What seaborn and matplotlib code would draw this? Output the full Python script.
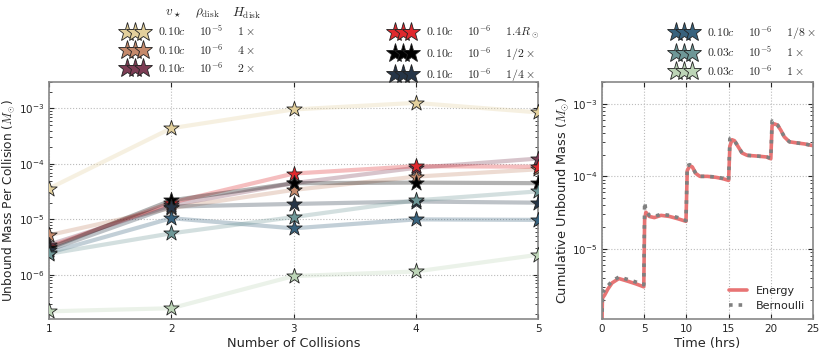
import numpy as np
import pandas as pd
import seaborn as sns
import matplotlib
matplotlib.use("Agg")
import matplotlib.pyplot as plt
from matplotlib.lines import Line2D
from matplotlib.ticker import LogLocator

# ---------------- data ----------------
collisions = [1, 2, 3, 4, 5]

v_star = ["0.10c", "0.10c", "0.10c", "0.10c", "0.10c", "0.10c", "0.10c", "0.03c", "0.03c"]
rho_disk = ["10^{-5}", "10^{-6}", "10^{-6}", "10^{-6}", "10^{-6}", "10^{-6}", "10^{-6}", "10^{-5}", "10^{-6}"]
h_disk = [r"1\times", r"4\times", r"2\times", r"1.4R_\odot", r"1/2\times",
          r"1/4\times", r"1/8\times", r"1\times", r"1\times"]

run_tan = [3.6e-5, 4.4e-4, 9.6e-4, 1.26e-3, 8.5e-4]
run_brown = [5.2e-6, 1.6e-5, 3.4e-5, 5.9e-5, 8.0e-5]
run_maroon = [3.5e-6, 1.8e-5, 4.5e-5, 8.5e-5, 1.25e-4]
run_red = [3.2e-6, 2.0e-5, 6.7e-5, 9.1e-5, 8.9e-5]
run_black = [3.0e-6, 2.2e-5, 4.5e-5, 4.6e-5, 4.5e-5]
run_navy = [2.8e-6, 1.7e-5, 1.9e-5, 2.1e-5, 2.0e-5]
run_blue = [2.5e-6, 1.05e-5, 6.9e-6, 1.0e-5, 9.8e-6]
run_teal = [2.4e-6, 5.6e-6, 1.1e-5, 2.2e-5, 3.2e-5]
run_sage = [2.2e-7, 2.5e-7, 9.5e-7, 1.15e-6, 2.3e-6]

runs = [run_tan, run_brown, run_maroon, run_red, run_black,
        run_navy, run_blue, run_teal, run_sage]
run_colors = ["#e3d09c", "#c58a6c", "#7d3d55", "#e0282d", "#000000",
              "#263547", "#38627d", "#6e9797", "#bdd5b7"]

time_hrs = [0.0, 0.05, 0.3, 0.7, 1.2, 2.0, 3.0, 4.0, 4.95, 5.05, 5.2, 5.6, 6.2, 7.0,
            8.0, 9.0, 9.95, 10.1, 10.4, 10.7, 11.1, 11.6, 12.5, 13.5, 14.3, 15.0,
            15.15, 15.4, 15.7, 16.1, 16.6, 17.2, 18.5, 19.5, 20.0, 20.15, 20.4,
            20.8, 21.2, 21.6, 22.2, 23.0, 24.0, 25.0]
energy = [1.0e-6, 2.1e-6, 2.3e-6, 2.8e-6, 3.4e-6, 3.9e-6, 3.6e-6, 3.3e-6, 3.0e-6,
          2.5e-5, 3.2e-5, 2.8e-5, 2.7e-5, 2.9e-5, 2.8e-5, 2.6e-5, 2.4e-5, 1.2e-4,
          1.4e-4, 1.35e-4, 1.1e-4, 1.0e-4, 1.0e-4, 9.7e-5, 9.3e-5, 8.8e-5, 2.6e-4,
          3.2e-4, 3.1e-4, 2.6e-4, 2.1e-4, 1.95e-4, 1.9e-4, 1.85e-4, 1.75e-4, 5.0e-4,
          5.3e-4, 5.1e-4, 4.3e-4, 3.5e-4, 3.0e-4, 2.9e-4, 2.8e-4, 2.65e-4]
bernoulli = [1.0e-6, 2.5e-6, 2.7e-6, 3.1e-6, 3.6e-6, 4.1e-6, 3.8e-6, 3.5e-6, 3.2e-6,
             4.4e-5, 3.4e-5, 2.9e-5, 2.8e-5, 3.0e-5, 2.9e-5, 2.7e-5, 2.45e-5, 1.4e-4,
             1.45e-4, 1.35e-4, 1.1e-4, 1.0e-4, 1.0e-4, 9.8e-5, 9.4e-5, 8.9e-5, 3.3e-4,
             3.35e-4, 3.1e-4, 2.6e-4, 2.1e-4, 1.95e-4, 1.9e-4, 1.85e-4, 1.78e-4, 5.8e-4,
             5.4e-4, 5.1e-4, 4.3e-4, 3.5e-4, 3.0e-4, 2.9e-4, 2.8e-4, 2.65e-4]

# ---------------- style ----------------
sns.set_style("ticks")
plt.rcParams.update({
    "font.family": ["DejaVu Sans"],
    "mathtext.fontset": "cm",
    "font.size": 9,
    "axes.labelsize": 9.3,
    "xtick.labelsize": 7.5,
    "ytick.labelsize": 7.5,
    "xtick.direction": "in",
    "ytick.direction": "in",
    "xtick.top": True,
    "ytick.right": True,
    "axes.edgecolor": "#888888",
    "axes.linewidth": 1.2,
})

W, H = 830, 356
fig = plt.figure(figsize=(W / 100, H / 100), dpi=100)
ax1 = fig.add_axes([49 / W, 1 - 319 / H, (538 - 49) / W, (319 - 82) / H])
ax2 = fig.add_axes([602 / W, 1 - 319 / H, (813 - 602) / W, (319 - 82) / H])

# ---------------- left panel ----------------
sp = "    "
labels = []
for i in range(len(runs)):
    labels.append(f"${v_star[i]}${sp}${rho_disk[i]}${sp}${h_disk[i]}$")

rows = []
for i, r in enumerate(runs):
    for x, y in zip(collisions, r):
        rows.append({"collision": x, "mass": y, "run": labels[i]})
df = pd.DataFrame(rows)
pal = dict(zip(labels, run_colors))

sns.lineplot(data=df, x="collision", y="mass", hue="run", palette=pal,
             linewidth=3, alpha=0.3, legend=False, ax=ax1, zorder=2)
for i, r in enumerate(runs):
    sub = df[df["run"] == labels[i]]
    sns.scatterplot(data=sub, x="collision", y="mass", color=run_colors[i],
                    marker="*", s=135, edgecolor="#222222", linewidth=0.6,
                    legend=False, ax=ax1, zorder=3 + i)

ax1.set_yscale("log")
ax1.set_xlim(1, 5)
ax1.set_ylim(1.6e-7, 3e-3)
ax1.set_xticks(collisions)
ax1.set_yticks([1e-6, 1e-5, 1e-4, 1e-3])
ax1.yaxis.set_minor_locator(LogLocator(base=10, subs=np.arange(2, 10)))
ax1.grid(True, which="major", linestyle=":", color="#bbbbbb", linewidth=0.8)
ax1.set_xlabel("Number of Collisions", labelpad=2)
ax1.set_ylabel(r"Unbound Mass Per Collision ($M_{\odot}$)", fontsize=8.8)
ax1.yaxis.set_label_coords((17 - 49) / (538 - 49), 0.5)

def handles_for(idx):
    return [Line2D([], [], linestyle="none", marker="*", markersize=14,
                   markerfacecolor=run_colors[i], markeredgecolor="#222222",
                   markeredgewidth=0.6) for i in idx]

leg_kw = dict(frameon=False, numpoints=3, handlelength=2.03, handletextpad=0.93,
              labelspacing=0.27, borderpad=0, borderaxespad=0, fontsize=8.5,
              loc="upper left")
for idx, x0 in [([0, 1, 2], 123), ([3, 4, 5], 391), ([6, 7, 8], 672)]:
    fig.legend(handles_for(idx), [labels[i] for i in idx],
               bbox_to_anchor=(x0 / W, 1 - 24 / H), **leg_kw)

fig.text(165 / W, 1 - 13 / H, r"$v_\star$", fontsize=9.5, va="center")
fig.text(195 / W, 1 - 13 / H, r"$\rho_{\rm disk}$", fontsize=9.5, va="center")
fig.text(232 / W, 1 - 13 / H, r"$H_{\rm disk}$", fontsize=9.5, va="center")

# ---------------- right panel ----------------
dft = pd.DataFrame({"time": time_hrs, "Energy": energy, "Bernoulli": bernoulli})
sns.lineplot(data=dft, x="time", y="Energy", color="#e87474", linewidth=2.6,
             label="Energy", ax=ax2)
sns.lineplot(data=dft, x="time", y="Bernoulli", color="#808080", linewidth=2.6,
             linestyle=":", label="Bernoulli", ax=ax2)
ax2.set_yscale("log")
ax2.set_xlim(0, 25)
ax2.set_ylim(1.08e-6, 2e-3)
ax2.set_xticks([0, 5, 10, 15, 20, 25])
ax2.set_yticks([1e-5, 1e-4, 1e-3])
ax2.yaxis.set_minor_locator(LogLocator(base=10, subs=np.arange(2, 10)))
ax2.grid(True, which="major", linestyle=":", color="#bbbbbb", linewidth=0.8)
ax2.set_xlabel("Time (hrs)", labelpad=2)
ax2.set_ylabel(r"Cumulative Unbound Mass ($M_{\odot}$)")
ax2.yaxis.set_label_coords((571 - 602) / (813 - 602), 0.5)
ax2.legend(loc="lower right", frameon=False, fontsize=8, handlelength=1.6,
           borderaxespad=0.3, labelspacing=0.5)

fig.savefig("out.png", dpi=100)
